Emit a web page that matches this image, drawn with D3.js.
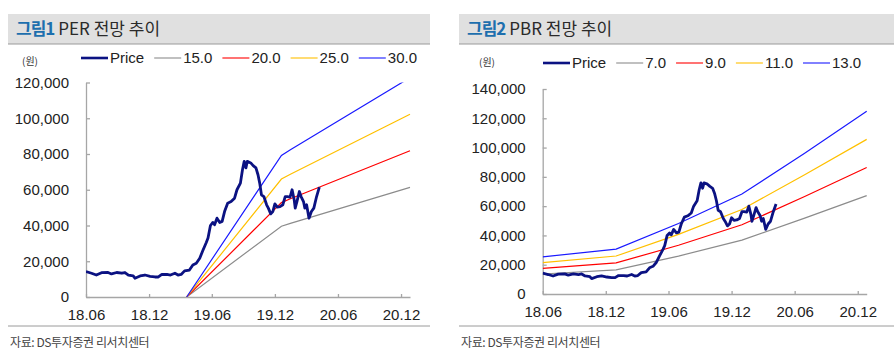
<!DOCTYPE html>
<html><head><meta charset="utf-8">
<script src="https://cdn.jsdelivr.net/npm/d3@7"></script>
<style>
html,body{margin:0;padding:0;background:#fff;}
svg{display:block;}
text{font-family:"Liberation Sans",Arial,"Noto Sans CJK KR",sans-serif;}
.kr{font-family:"Noto Sans CJK KR","Liberation Sans",sans-serif;}
</style>
</head><body>
<svg id="chart" width="894" height="356"></svg>
<script>
// ---------------- data ----------------
const priceDates = [
"2018-06-01","2018-06-17","2018-07-01","2018-07-16","2018-08-04","2018-08-14","2018-08-29","2018-09-13","2018-09-22","2018-10-02",
"2018-10-16","2018-10-21","2018-11-05","2018-11-19","2018-12-04","2018-12-18","2018-12-28","2019-01-07","2019-01-22","2019-02-01",
"2019-02-14","2019-02-23","2019-03-04","2019-03-14","2019-03-28","2019-04-07","2019-04-17","2019-04-27","2019-05-06","2019-05-16",
"2019-05-21","2019-05-28","2019-06-04","2019-06-09","2019-06-16","2019-06-24","2019-07-01","2019-07-08","2019-07-17","2019-07-27",
"2019-08-06","2019-08-13","2019-08-23","2019-08-29","2019-09-03","2019-09-08","2019-09-12","2019-09-22","2019-09-29","2019-10-07",
"2019-10-13","2019-10-18","2019-10-23","2019-10-30","2019-11-07","2019-11-12","2019-11-19","2019-11-25","2019-12-01","2019-12-08",
"2019-12-16","2019-12-24","2019-12-31","2020-01-06","2020-01-14","2020-01-20","2020-01-26","2020-01-29","2020-02-03","2020-02-10",
"2020-02-15","2020-02-22","2020-02-26","2020-03-02","2020-03-09","2020-03-16","2020-03-23","2020-03-31","2020-04-08"];
const priceValues = [
14200,13300,12300,13600,13700,12900,13700,13300,13700,12300,
11800,10500,11800,12300,11600,11200,11200,12600,12600,12300,
13300,12300,12600,14600,15100,17900,18900,21700,26000,30500,
33000,40000,41700,40400,44100,41700,42300,47800,52500,53400,
55300,60000,63700,71200,75900,72200,75900,75000,73500,72200,
68400,63700,57200,56200,51600,49700,46500,47800,52100,50300,
50600,51600,56200,56200,55900,60000,54400,49700,53400,59000,
56200,53400,49700,51600,44100,47800,49700,56200,61500];

// PER band lines
const perDates = ["2019-03-20","2019-12-20","2020-01-15","2020-12-27"];
const per15 = [0, 39600, 41200, 61350];
const per20 = [0, 52800, 55000, 81800];
const per25 = [0, 66000, 68700, 102250];
const per30 = [0, 79200, 82400, 122700];
const perNames = ["15.0","20.0","25.0","30.0"];

// PBR band lines
const pbrDates = ["2018-06-01","2018-12-31","2019-06-30","2019-12-31","2020-06-30","2020-12-27"];
const pbr7  = [13650, 16520, 25900, 36750, 51800, 67200];
const pbr9  = [17550, 21240, 33300, 47250, 66600, 86400];
const pbr11 = [21450, 25960, 40700, 57750, 81400, 105600];
const pbr13 = [25350, 30680, 48100, 68250, 96200, 124800];
const pbrNames = ["7.0","9.0","11.0","13.0"];

const xTickDates  = ["2018-06-01","2018-12-01","2019-06-01","2019-12-01","2020-06-01","2020-12-01"];
const xTickLabels = ["18.06","18.12","19.06","19.12","20.06","20.12"];
const perYTicks = [0,20000,40000,60000,80000,100000,120000];
const pbrYTicks = [0,20000,40000,60000,80000,100000,120000,140000];
const xDomain = ["2018-06-01","2020-12-27"];

// ---------------- styles ----------------
const bandColors = ["#8c8c8c","#ff0000","#ffc000","#1a1aff"];
const priceColor = "#0b1282";
const axisColor = "#a6a6a6";
const textColor = "#222";

const parse = d3.timeParse("%Y-%m-%d");
const svg = d3.select("#chart");
const fmt = d3.format(",");

function panel(cfg){
  const g = svg.append("g");
  // header
  g.append("rect").attr("x",cfg.hx0).attr("y",14).attr("width",cfg.hx1-cfg.hx0).attr("height",30).attr("fill","#e0e0e0");
  g.append("line").attr("x1",cfg.hx0).attr("x2",cfg.hx1).attr("y1",44).attr("y2",44).attr("stroke","#9a9a9a").attr("stroke-width",1.2);
  const t = g.append("text").attr("class","kr").attr("x",cfg.hx0+8).attr("y",35).attr("font-size",17);
  t.append("tspan").attr("font-weight","bold").attr("fill","#1d6fae").attr("letter-spacing",-1).text(cfg.figLabel);
  t.append("tspan").attr("fill","#2a2a2a").attr("dx",4).text(cfg.title);
  // footer
  g.append("line").attr("x1",cfg.hx0).attr("x2",cfg.fx1).attr("y1",326).attr("y2",326).attr("stroke","#9a9a9a").attr("stroke-width",1);
  g.append("text").attr("class","kr").attr("x",cfg.hx0+2).attr("y",347).attr("font-size",12).attr("fill","#444").attr("letter-spacing",-0.4).text("자료: DS투자증권 리서치센터");

  // scales
  const x = d3.scaleTime().domain(xDomain.map(parse)).range([cfg.x0,cfg.x1]);
  const y = d3.scaleLinear().domain([0,cfg.ymax]).range([cfg.y0,cfg.y1]);

  // unit
  g.append("text").attr("class","kr").attr("x",cfg.unitX).attr("y",cfg.unitY).attr("font-size",10).attr("fill","#333").text("(원)");

  // y axis
  const ya = g.append("g").attr("transform",`translate(${cfg.x0},0)`)
    .call(d3.axisLeft(y).tickValues(cfg.yTicks).tickFormat(fmt).tickSize(-4).tickSizeOuter(0).tickPadding(17));
  ya.select(".domain").attr("stroke",axisColor).attr("stroke-width",1.3);
  ya.selectAll(".tick line").attr("stroke",axisColor).attr("stroke-width",1.3);
  ya.selectAll(".tick text").attr("font-size",15).attr("fill",textColor).attr("font-family","Liberation Sans, Arial, sans-serif");

  // x axis
  const xa = g.append("g").attr("transform",`translate(0,${cfg.y0})`)
    .call(d3.axisBottom(x).tickValues(xTickDates.map(parse)).tickFormat((d,i)=>xTickLabels[i]).tickSize(-3).tickSizeOuter(0).tickPadding(12.5));
  xa.select(".domain").attr("stroke",axisColor).attr("stroke-width",1.3);
  xa.selectAll(".tick line").attr("stroke",axisColor).attr("stroke-width",1.3);
  xa.selectAll(".tick text").attr("font-size",15).attr("fill",textColor).attr("font-family","Liberation Sans, Arial, sans-serif");

  // clip
  const cid = "clip"+cfg.id;
  svg.append("clipPath").attr("id",cid).append("rect")
    .attr("x",cfg.x0).attr("y",cfg.y1).attr("width",cfg.x1-cfg.x0+1).attr("height",cfg.y0-cfg.y1);
  const plot = g.append("g").attr("clip-path",`url(#${cid})`);

  const line = d3.line().x(d=>x(d[0])).y(d=>y(d[1]));
  const bDates = cfg.bandDates.map(parse);
  cfg.bands.forEach((vals,i)=>{
    plot.append("path").datum(vals.map((v,j)=>[bDates[j],v]))
      .attr("d",line).attr("fill","none").attr("stroke",bandColors[i]).attr("stroke-width",1.2);
  });
  const pd = priceDates.map(parse);
  plot.append("path").datum(priceValues.map((v,j)=>[pd[j],v]))
    .attr("d",line).attr("fill","none").attr("stroke",priceColor).attr("stroke-width",2.8).attr("stroke-linejoin","round");

  // legend
  const items = [{name:"Price",color:priceColor,w:2.6,op:1}].concat(cfg.bandNames.map((n,i)=>({name:n,color:bandColors[i],w:2,op:0.55})));
  let lx = cfg.legX;
  items.forEach(it=>{
    g.append("line").attr("x1",lx).attr("x2",lx+27).attr("y1",cfg.legY).attr("y2",cfg.legY)
      .attr("stroke",it.color).attr("stroke-width",it.w).attr("stroke-opacity",it.op);
    const tx = g.append("text").attr("x",lx+29).attr("y",cfg.legY).attr("dy","0.36em")
      .attr("font-size",15).attr("fill",textColor).text(it.name);
    lx = lx + 29 + tx.node().getComputedTextLength() + 10;
  });
}

panel({id:1, hx0:8, hx1:430, fx1:430, figLabel:"그림1", title:"PER 전망 추이",
  x0:86, x1:410, y0:297, y1:82.5, ymax:120000, yTicks:perYTicks,
  bandDates:perDates, bands:[per15,per20,per25,per30], bandNames:perNames,
  legX:81, legY:58, unitX:22, unitY:65});
panel({id:2, hx0:459, hx1:894, fx1:894, figLabel:"그림2", title:"PBR 전망 추이",
  x0:542.7, x1:866.7, y0:294, y1:89, ymax:140000, yTicks:pbrYTicks,
  bandDates:pbrDates, bands:[pbr7,pbr9,pbr11,pbr13], bandNames:pbrNames,
  legX:543, legY:63, unitX:479, unitY:66});
</script>
</body></html>
